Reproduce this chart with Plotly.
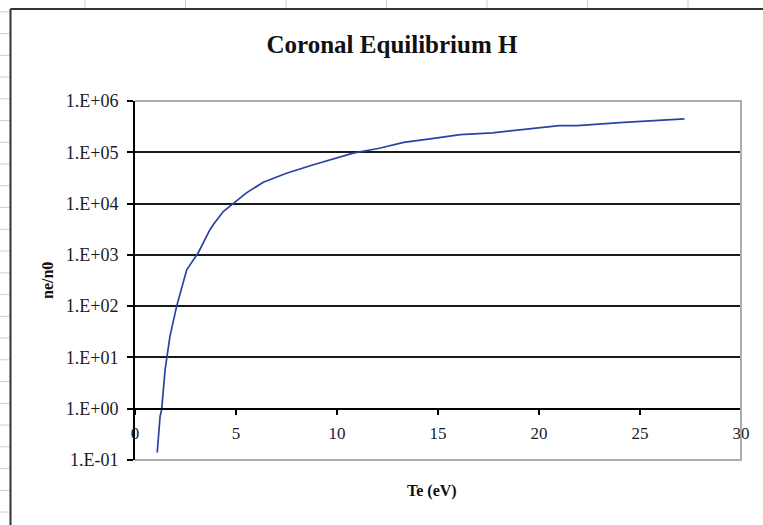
import plotly.graph_objects as go

# Electron temperature (eV) and density ratio ne/n0 for hydrogen in coronal equilibrium
te_ev = [1.10, 1.24, 1.32, 1.49, 1.73, 2.06, 2.56, 2.89, 3.13, 3.71, 3.88, 4.37,
         4.87, 5.5, 6.35, 7.5, 8.83, 10.0, 10.8, 12.1, 13.3, 14.7, 16.1, 17.7,
         19.3, 21.0, 21.9, 24.0, 27.2]
ne_n0 = [0.14, 0.7, 0.96, 5.8, 25.7, 99, 510, 800, 1100, 3100, 3900, 7000,
         1.0e4, 1.6e4, 2.6e4, 3.9e4, 5.7e4, 7.8e4, 9.6e4, 1.2e5, 1.56e5, 1.85e5,
         2.2e5, 2.4e5, 2.8e5, 3.3e5, 3.3e5, 3.8e5, 4.5e5]

y_tick_vals = [1e-1, 1e0, 1e1, 1e2, 1e3, 1e4, 1e5, 1e6]
y_tick_text = ["1.E-01", "1.E+00", "1.E+01", "1.E+02", "1.E+03", "1.E+04", "1.E+05", "1.E+06"]
x_tick_vals = [0, 5, 10, 15, 20, 25, 30]

W, H = 763, 525
L, R, T, B = 135, 741, 101, 460   # plot area in pixels
X_AXIS_Y = 409                     # x axis crosses at ne/n0 = 1

SERIF = "Liberation Serif, Times New Roman, serif"
INK = "#1a1a2a"


def px(x):
    return (x - L) / (R - L)


def py(y):
    return (B - y) / (B - T)


fig = go.Figure(
    go.Scatter(
        x=te_ev, y=ne_n0, mode="lines",
        line=dict(color="#2843a3", width=1.7),
        hoverinfo="x+y",
    )
)

shapes = []
# spreadsheet cell grid peeking around the embedded chart
for cx in [85 + 100.5 * k for k in range(7)]:
    shapes.append(dict(type="line", xref="paper", yref="paper",
                       x0=px(cx), x1=px(cx), y0=py(0), y1=py(9.5),
                       line=dict(color="#cfcfcf", width=1), layer="below"))
for k in range(25):
    ry = 11.8 + 21.75 * k
    shapes.append(dict(type="line", xref="paper", yref="paper",
                       x0=px(0), x1=px(9.5), y0=py(ry), y1=py(ry),
                       line=dict(color="#cfcfcf", width=1), layer="below"))
# chart frame
shapes.append(dict(type="line", xref="paper", yref="paper",
                   x0=px(10.5), x1=px(10.5), y0=py(9), y1=py(H + 5),
                   line=dict(color="#333333", width=2)))
shapes.append(dict(type="line", xref="paper", yref="paper",
                   x0=px(10.5), x1=px(W + 5), y0=py(9), y1=py(9),
                   line=dict(color="#333333", width=2)))
# plot area border (top, right, bottom)
shapes.append(dict(type="path", xref="paper", yref="paper",
                   path="M 0 1 L 1 1 L 1 0 L 0 0",
                   line=dict(color="#acacac", width=2)))

fig.update_layout(
    width=W, height=H,
    margin=dict(l=L, r=W - R, t=T, b=H - B),
    paper_bgcolor="white", plot_bgcolor="white",
    showlegend=False,
    shapes=shapes,
    title=dict(text="<b>Coronal Equilibrium H</b>", x=392 / W, xref="container",
               xanchor="center", y=1 - 44 / H, yref="container", yanchor="middle",
               font=dict(family=SERIF, size=25, color="#111111")),
    annotations=[
        dict(text="<b>ne/n0</b>", xref="paper", yref="paper", x=px(47), y=py(281),
             showarrow=False, textangle=-90, xanchor="center", yanchor="middle",
             font=dict(family=SERIF, size=16, color="#111111")),
        dict(text="<b>Te (eV)</b>", xref="paper", yref="paper", x=px(432), y=py(491),
             showarrow=False, xanchor="center", yanchor="middle",
             font=dict(family=SERIF, size=16, color="#111111")),
    ],
)

fig.update_xaxes(
    range=[0, 30], tickvals=x_tick_vals, ticks="outside", ticklen=5,
    tickcolor="black", tickwidth=1.5, ticklabelstandoff=4,
    showline=True, linecolor="black", linewidth=1.8,
    anchor="free", position=py(X_AXIS_Y),
    showgrid=False, zeroline=False,
    tickfont=dict(family=SERIF, size=17, color=INK),
)
fig.update_yaxes(
    type="log", range=[-1, 6], tickvals=y_tick_vals, ticktext=y_tick_text,
    ticks="outside", ticklen=6, tickcolor="black", tickwidth=1.5,
    ticklabelstandoff=5,
    showline=True, linecolor="black", linewidth=1.8,
    showgrid=True, gridcolor="#1a1a1a", gridwidth=1.6,
    zeroline=False,
    tickfont=dict(family=SERIF, size=18, color=INK),
)

fig.write_html("out.html")
